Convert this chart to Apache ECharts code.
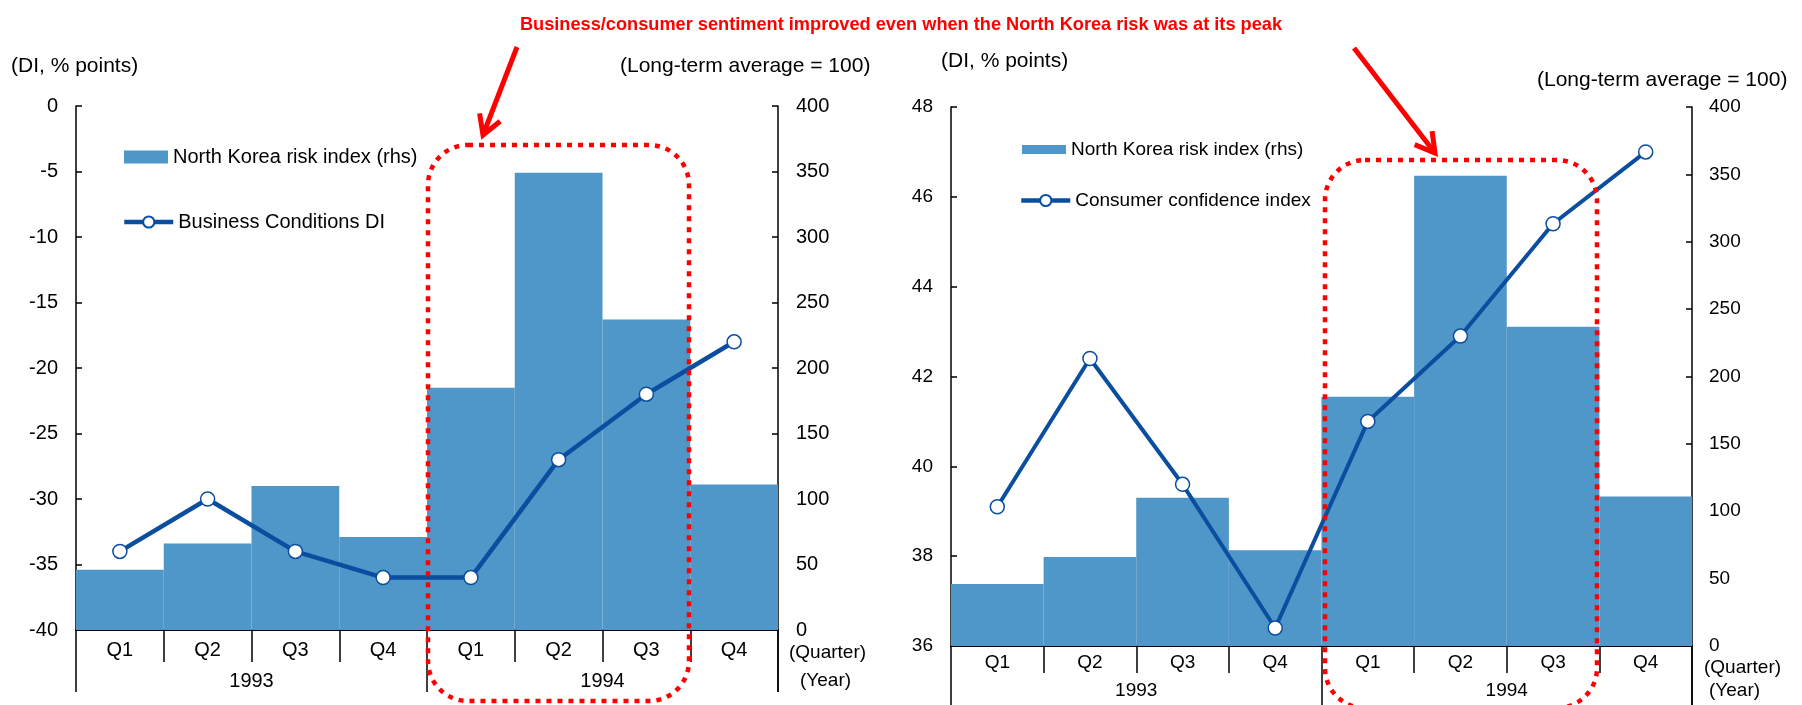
<!DOCTYPE html>
<html>
<head>
<meta charset="utf-8">
<script src="https://cdn.jsdelivr.net/npm/echarts@6/dist/echarts.min.js"></script>
<style>
  html, body { margin: 0; padding: 0; background: #fff; }
  #chart { width: 1802px; height: 705px; }
</style>
</head>
<body>
<div id="chart"></div>
<script>
// data
const quarters = ['Q1', 'Q2', 'Q3', 'Q4', 'Q1', 'Q2', 'Q3', 'Q4'];
const years = ['1993', '1994'];
const riskIndex = [46, 66, 110, 71, 185, 349, 237, 111];
const businessDI = [-34, -30, -34, -36, -36, -27, -22, -18];
const consumerConf = [39.1, 42.4, 39.6, 36.4, 41.0, 42.9, 45.4, 47.0];

const FONT = "'Liberation Sans', Arial, sans-serif";
const BAR_COLOR = '#4f96c9';
const LINE_COLOR = '#0b4ea0';
const RED = '#ff0000';

const chart = echarts.init(document.getElementById('chart'));

function txt(text, x, y, size, extra) {
  return {
    type: 'text', z: 100, x: x, y: y,
    style: Object.assign({
      text: text, fill: '#000', fontSize: size, fontFamily: FONT,
      verticalAlign: 'middle', align: 'left'
    }, extra || {})
  };
}

// open-headed arrow from (x1,y1) to tip (x2,y2)
function arrow(x1, y1, x2, y2) {
  const a = Math.atan2(y1 - y2, x1 - x2), L = 22, s = Math.PI / 6;
  const p1 = [x2 + L * Math.cos(a + s), y2 + L * Math.sin(a + s)];
  const p2 = [x2 + L * Math.cos(a - s), y2 + L * Math.sin(a - s)];
  return [
    { type: 'line', z: 100, shape: { x1: x1, y1: y1, x2: x2, y2: y2 },
      style: { stroke: RED, lineWidth: 5 } },
    { type: 'polyline', z: 100, shape: { points: [p1, [x2, y2], p2] },
      style: { stroke: RED, lineWidth: 5, fill: null } }
  ];
}

function dottedBox(x, y, w, h) {
  return {
    type: 'rect', z: 100,
    shape: { x: x, y: y, width: w, height: h, r: 40 },
    style: { fill: null, stroke: RED, lineWidth: 4.5, lineDash: [5, 6] }
  };
}

// closing separator under the right end of a category axis (echarts skips the last tick)
function edgeLine(x, y1, y2) {
  return { type: 'line', z: 100, shape: { x1: x, y1: y1, x2: x, y2: y2 },
    style: { stroke: '#000', lineWidth: 1.5 } };
}

function catAxes(grid, size, qMargin, qTick, yMargin, yTick) {
  const tickStyle = { color: '#000', width: 1.5 };
  return [
    {
      type: 'category', gridIndex: grid, data: quarters, position: 'bottom',
      axisLine: { onZero: false, lineStyle: { color: '#000', width: 2 } },
      axisTick: { show: true, interval: 0, length: qTick, lineStyle: tickStyle },
      axisLabel: { interval: 0, margin: qMargin, color: '#000', fontSize: size, fontFamily: FONT }
    },
    {
      type: 'category', gridIndex: grid, data: years, position: 'bottom',
      axisLine: { show: false, onZero: false },
      axisTick: { show: true, interval: 0, length: yTick, lineStyle: tickStyle },
      axisLabel: { interval: 0, margin: yMargin, color: '#000', fontSize: size, fontFamily: FONT }
    }
  ];
}

function valAxis(grid, pos, min, max, interval, size, margin) {
  return {
    type: 'value', gridIndex: grid, position: pos, min: min, max: max, interval: interval,
    axisLine: { show: true, lineStyle: { color: '#000', width: 1.5 } },
    axisTick: { show: true, inside: true, length: 6, lineStyle: { color: '#000', width: 1.5 } },
    axisLabel: { margin: margin, color: '#000', fontSize: size, fontFamily: FONT },
    splitLine: { show: false }
  };
}

function lineLegend(name, left, top, size) {
  return {
    data: [name], left: left, top: top, orient: 'vertical',
    itemWidth: 49, itemHeight: 14, selectedMode: false,
    lineStyle: { width: 4.5 },
    textStyle: { color: '#000', fontSize: size, fontFamily: FONT }
  };
}

function barLegend(left, top, h, size) {
  return {
    data: [{ name: 'North Korea risk index (rhs)', icon: 'rect' }], left: left, top: top,
    itemWidth: 44, itemHeight: h, selectedMode: false,
    textStyle: { color: '#000', fontSize: size, fontFamily: FONT }
  };
}

const option = {
  animation: false,
  title: {
    text: 'Business/consumer sentiment improved even when the North Korea risk was at its peak',
    left: 'center', top: 11,
    textStyle: { color: RED, fontWeight: 'bold', fontSize: 18.2,
      fontFamily: "'Liberation Sans Narrow', 'Liberation Sans', Arial, sans-serif" }
  },
  legend: [
    barLegend(119, 142, 13, 20),
    lineLegend('Business Conditions DI', 117, 207, 20),
    barLegend(1017, 135, 9, 19),
    lineLegend('Consumer confidence index', 1014, 186, 19)
  ],
  grid: [
    { left: 76, right: 1024, top: 106, bottom: 75 },
    { left: 951, right: 110, top: 107, bottom: 59 }
  ],
  xAxis: catAxes(0, 20, 10, 32, 41, 62).concat(catAxes(1, 19, 7, 27, 35, 62)),
  yAxis: [
    valAxis(0, 'left', -40, 0, 5, 20, 18),
    valAxis(0, 'right', 0, 400, 50, 20, 18),
    valAxis(1, 'left', 36, 48, 2, 19, 18),
    valAxis(1, 'right', 0, 400, 50, 19, 17)
  ],
  series: [
    {
      name: 'North Korea risk index (rhs)', type: 'bar', xAxisIndex: 0, yAxisIndex: 1,
      data: riskIndex, barCategoryGap: '0%', itemStyle: { color: BAR_COLOR }, z: 1
    },
    {
      name: 'Business Conditions DI', type: 'line', xAxisIndex: 0, yAxisIndex: 0,
      data: businessDI, symbol: 'circle', symbolSize: 14, z: 3,
      lineStyle: { color: LINE_COLOR, width: 4.5 },
      itemStyle: { color: '#fff', borderColor: LINE_COLOR, borderWidth: 1.5 }
    },
    {
      name: 'North Korea risk index (rhs)', type: 'bar', xAxisIndex: 2, yAxisIndex: 3,
      data: riskIndex, barCategoryGap: '0%', itemStyle: { color: BAR_COLOR }, z: 1
    },
    {
      name: 'Consumer confidence index', type: 'line', xAxisIndex: 2, yAxisIndex: 2,
      data: consumerConf, symbol: 'circle', symbolSize: 14, z: 3,
      lineStyle: { color: LINE_COLOR, width: 4 },
      itemStyle: { color: '#fff', borderColor: LINE_COLOR, borderWidth: 1.5 }
    }
  ],
  graphic: [
    txt('(DI, % points)', 11, 66, 21),
    txt('(Long-term average = 100)', 620, 66, 21),
    txt('(Quarter)', 789, 653, 19),
    txt('(Year)', 800, 681, 19),
    txt('(DI, % points)', 941, 61, 21),
    txt('(Long-term average = 100)', 1537, 80, 21),
    txt('(Quarter)', 1704, 668, 19),
    txt('(Year)', 1709, 691, 19),
    edgeLine(778, 630, 692),
    edgeLine(1692, 646, 705),
    dottedBox(428, 145, 261, 556),
    dottedBox(1325, 160, 272, 548)
  ].concat(arrow(517, 47, 483, 135), arrow(1354, 48, 1435, 153))
};

chart.setOption(option);
</script>
</body>
</html>
